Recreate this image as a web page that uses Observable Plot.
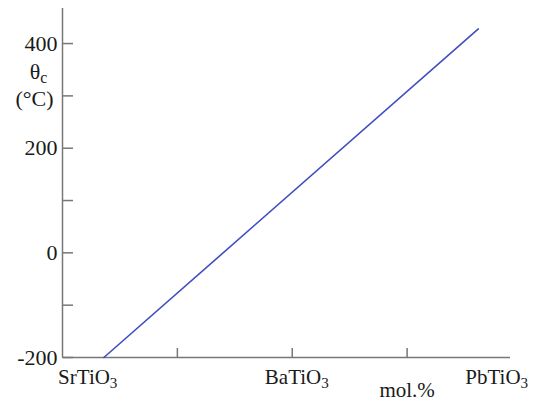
<!DOCTYPE html>
<html><head><meta charset="utf-8">
<script src="https://cdn.jsdelivr.net/npm/d3@7"></script>
<script src="https://cdn.jsdelivr.net/npm/@observablehq/plot@0.6"></script>
<style>body{margin:0;background:#fff}</style>
</head><body><div id="chart"></div>
<script>
// Curie temperature line (composition units, °C)
const lineX = [0.36, 3.62];
const lineY = [-200, 428];
// axis ticks
const yTicks = [-200, -100, 0, 100, 200, 300, 400];
const yTickLabels = [-200, 0, 200, 400];
const xTicks = [1, 2, 3];
// composition labels along x
const compounds = ["SrTiO_3", "BaTiO_3", "PbTiO_3"];
const compoundPos = [0.22, 2.04, 3.78];
const xUnitLabel = ["mol.%"];
const xUnitPos = [3.0];

const axisColor = "#777";
const textColor = "#1a1a1a";

const svg = Plot.plot({
  width: 536, height: 400,
  marginLeft: 62, marginRight: 26, marginTop: 8, marginBottom: 43,
  style: {fontFamily: "'Liberation Serif', 'Times New Roman', serif", background: "#fff"},
  x: {domain: [0, 3.9]},
  y: {domain: [-200, 467]},
  marks: [
    Plot.ruleX([0], {stroke: axisColor, strokeWidth: 1.5}),
    Plot.ruleY([-200], {stroke: axisColor, strokeWidth: 1.5}),
    Plot.axisY(yTicks, {anchor: "right", frameAnchor: "left", tickSize: 10, tickFormat: () => "", label: null, stroke: axisColor, strokeWidth: 1.5}),
    Plot.axisY(yTickLabels, {anchor: "left", tickSize: 0, tickPadding: 5, tickFormat: d => String(d), fontSize: 22, fill: textColor, label: null}),
    Plot.axisX(xTicks, {anchor: "top", frameAnchor: "bottom", tickSize: 10, tickFormat: () => "", label: null, stroke: axisColor, strokeWidth: 1.5}),
    Plot.line(lineX.map((x, i) => ({x, y: lineY[i]})), {x: "x", y: "y", stroke: "#3f4fc0", strokeWidth: 1.6}),
    Plot.text(compounds, {x: (d, i) => compoundPos[i], frameAnchor: "bottom", lineAnchor: "bottom", dy: 26, fontSize: 21, fill: textColor}),
    Plot.text(xUnitLabel, {x: (d, i) => xUnitPos[i], frameAnchor: "bottom", lineAnchor: "bottom", dy: 39, fontSize: 21, fill: textColor}),
    Plot.text(["θ_c"], {frameAnchor: "top-left", textAnchor: "middle", dx: -24, dy: 70, lineAnchor: "bottom", fontSize: 22, fill: textColor}),
    Plot.text(["(°C)"], {frameAnchor: "top-left", textAnchor: "middle", dx: -28, dy: 97, lineAnchor: "bottom", fontSize: 22, fill: textColor})
  ]
});

// render "_x" as subscript
d3.select(svg).selectAll("text").each(function() {
  const t = this.textContent;
  if (!t.includes("_")) return;
  const [base, sub] = t.split("_");
  const sel = d3.select(this);
  sel.text(null);
  sel.append("tspan").text(base);
  sel.append("tspan").attr("dy", "0.28em").attr("font-size", "0.72em").text(sub);
});

document.getElementById("chart").appendChild(svg);
</script>
</body></html>
